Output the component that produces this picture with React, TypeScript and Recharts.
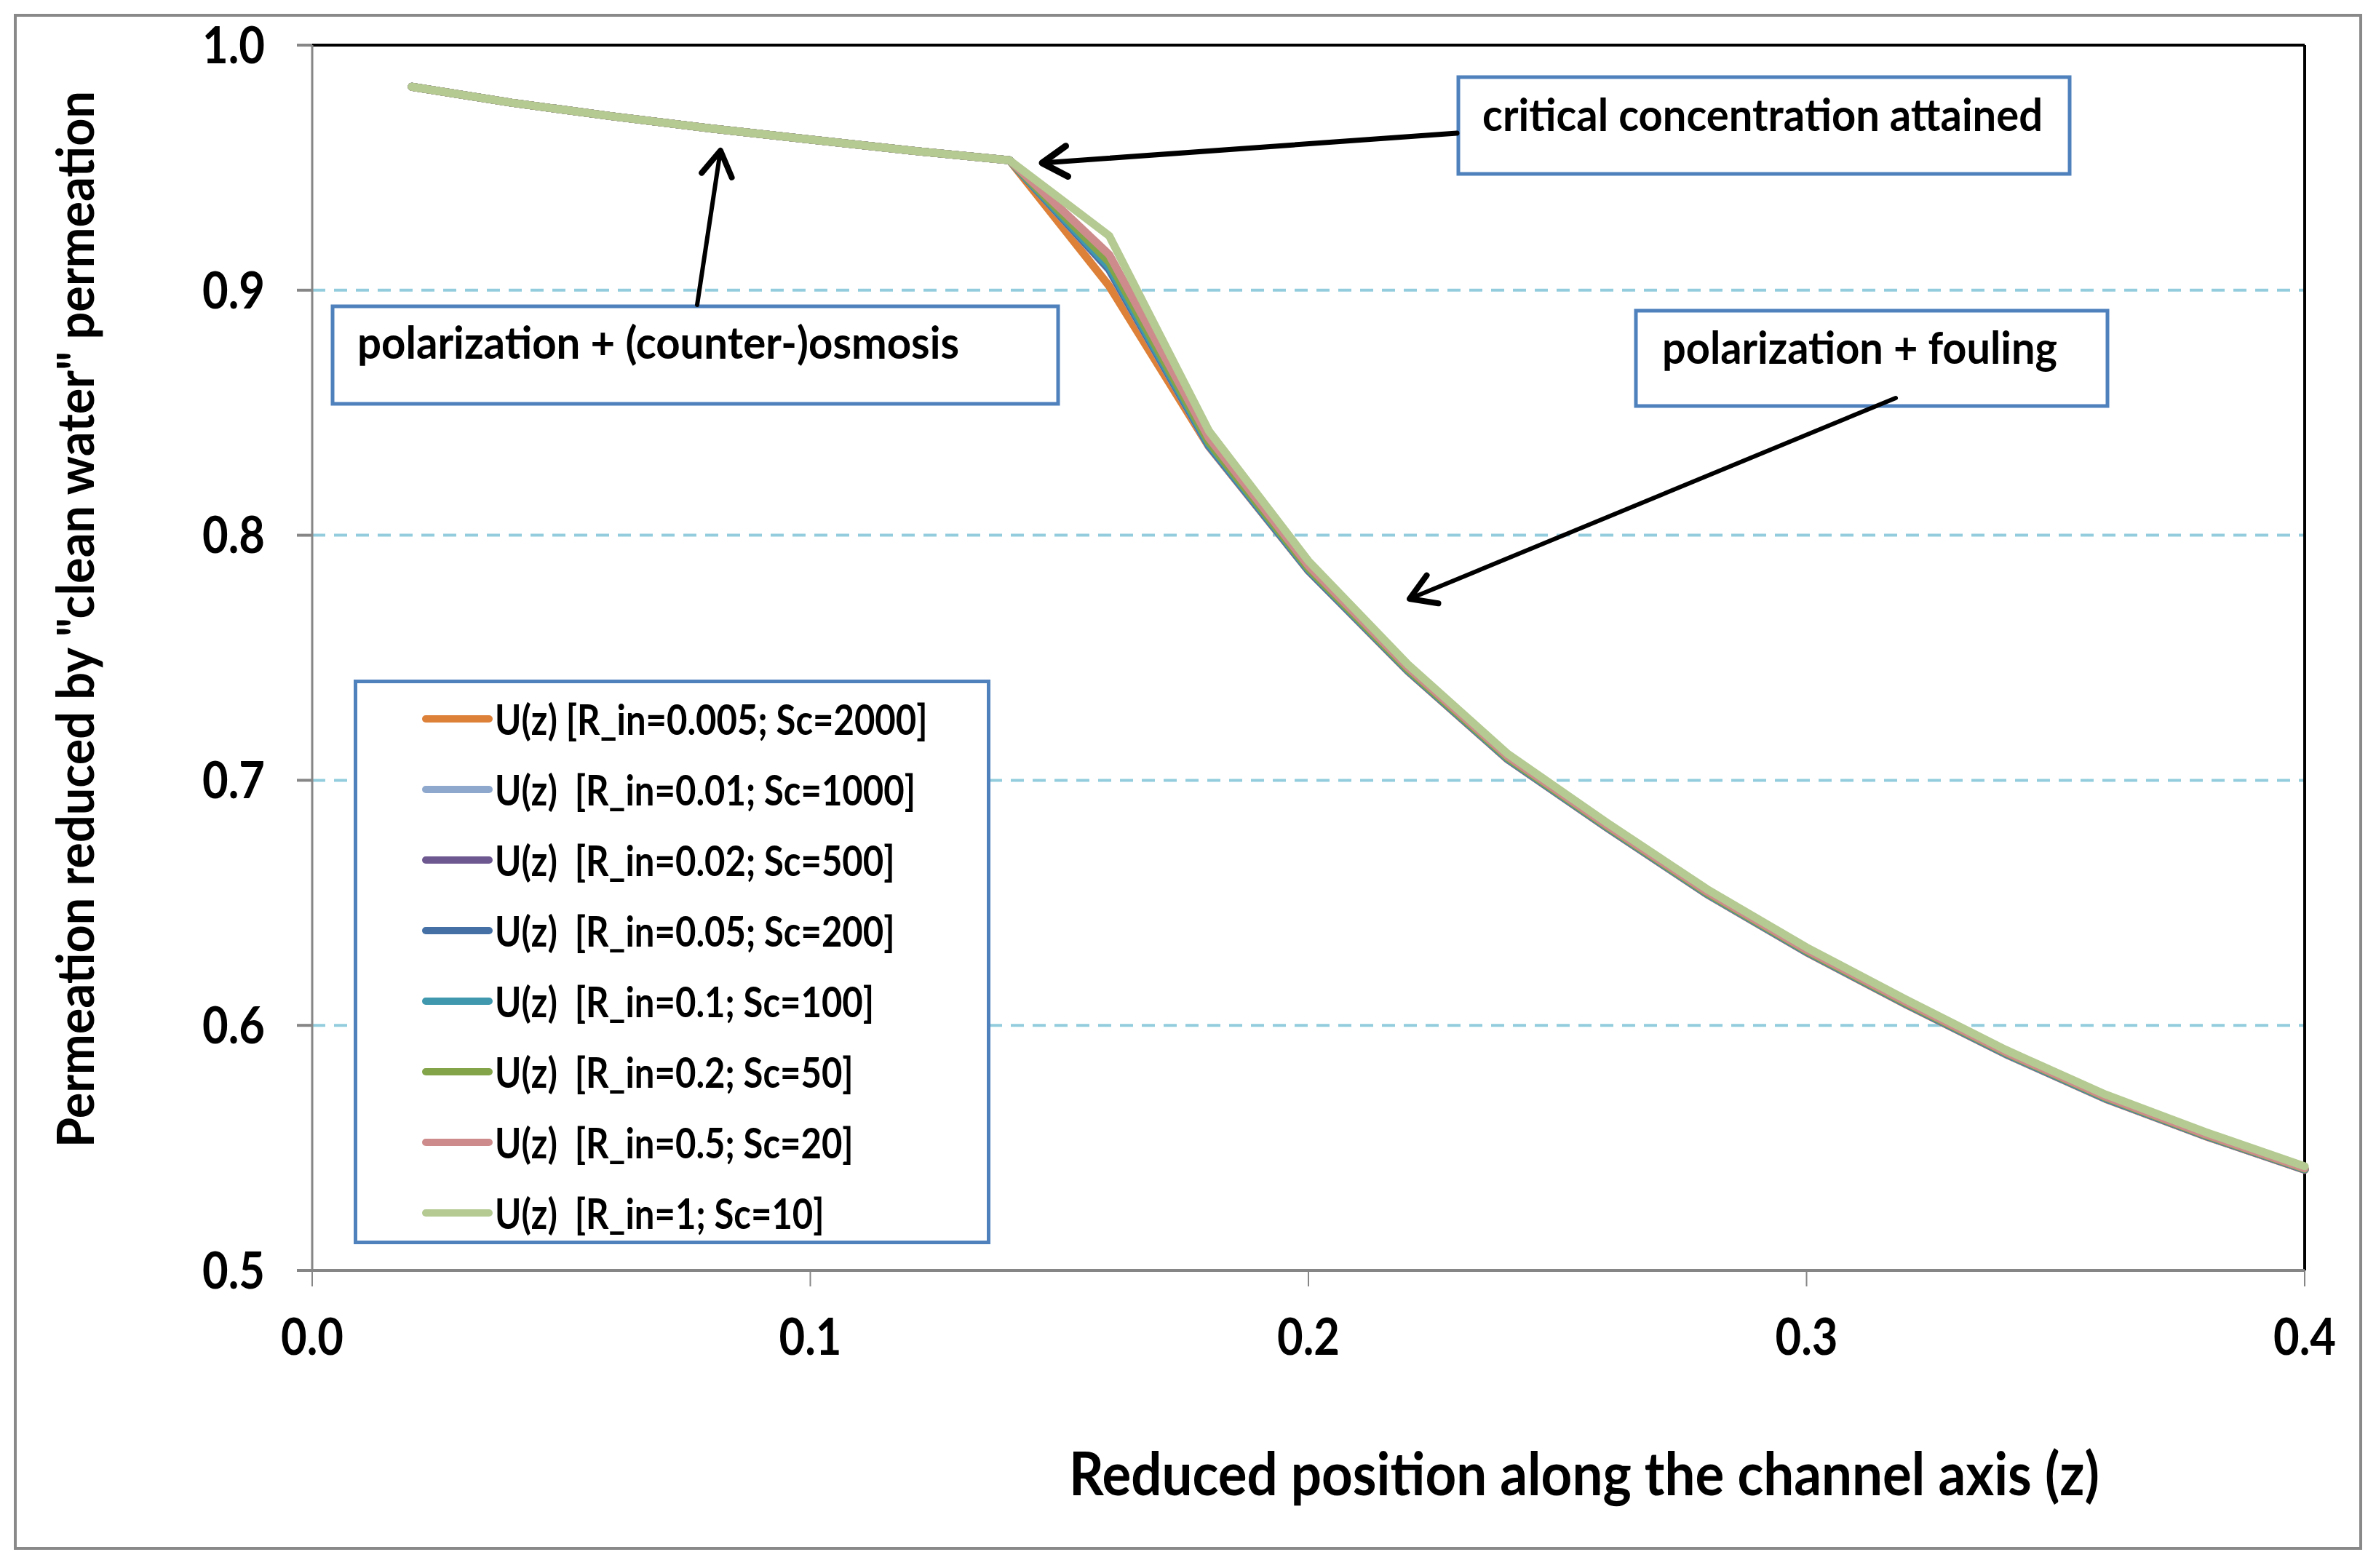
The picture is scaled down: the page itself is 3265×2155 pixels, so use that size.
import { LineChart, Line, CartesianGrid, XAxis, YAxis, Legend, ReferenceLine } from 'recharts';

const W = 3265;
const H = 2155;
const FONT = 'Lato, "Open Sans", sans-serif';

// reduced position z along the channel
const zValues = [0.02, 0.04, 0.06, 0.08, 0.1, 0.12, 0.14, 0.16, 0.18, 0.2, 0.22, 0.24, 0.26, 0.28, 0.3, 0.32, 0.34, 0.36, 0.38, 0.4];

// U(z) for each (R_in, Sc) pair
const uR0005 = [0.983, 0.9765, 0.971, 0.966, 0.9615, 0.957, 0.953, 0.9017, 0.8362, 0.7855, 0.7445, 0.7085, 0.6805, 0.6535, 0.6298, 0.6085, 0.5882, 0.57, 0.5548, 0.541];
const uR001 = [0.983, 0.9765, 0.971, 0.966, 0.9615, 0.957, 0.953, 0.9083, 0.8364, 0.7856, 0.7446, 0.7086, 0.6806, 0.6536, 0.6299, 0.6086, 0.5883, 0.5701, 0.5549, 0.5411];
const uR002 = [0.983, 0.9765, 0.971, 0.966, 0.9615, 0.957, 0.953, 0.9086, 0.8366, 0.7857, 0.7447, 0.7087, 0.6807, 0.6537, 0.63, 0.6087, 0.5884, 0.5702, 0.555, 0.5412];
const uR005 = [0.983, 0.9765, 0.971, 0.966, 0.9615, 0.957, 0.953, 0.9089, 0.8368, 0.7858, 0.7448, 0.7088, 0.6808, 0.6538, 0.6301, 0.6088, 0.5885, 0.5703, 0.5551, 0.5413];
const uR01 = [0.983, 0.9765, 0.971, 0.966, 0.9615, 0.957, 0.953, 0.9095, 0.8371, 0.786, 0.7449, 0.7089, 0.6809, 0.6539, 0.6302, 0.6089, 0.5886, 0.5704, 0.5552, 0.5414];
const uR02 = [0.983, 0.9765, 0.971, 0.966, 0.9615, 0.957, 0.953, 0.9115, 0.838, 0.7865, 0.7452, 0.7092, 0.6811, 0.6541, 0.6304, 0.6091, 0.5888, 0.5706, 0.5553, 0.5415];
const uR05 = [0.983, 0.9765, 0.971, 0.966, 0.9615, 0.957, 0.953, 0.9145, 0.8398, 0.7876, 0.746, 0.7098, 0.6816, 0.6546, 0.6308, 0.6095, 0.5891, 0.5709, 0.5556, 0.5417];
const uR1 = [0.983, 0.9765, 0.971, 0.966, 0.9615, 0.957, 0.953, 0.9222, 0.8426, 0.7895, 0.7472, 0.7108, 0.6826, 0.6556, 0.6318, 0.6105, 0.59, 0.5718, 0.5565, 0.5425];

const seriesNames = [
  'U(z) [R_in=0.005; Sc=2000]',
  'U(z)  [R_in=0.01; Sc=1000]',
  'U(z)  [R_in=0.02; Sc=500]',
  'U(z)  [R_in=0.05; Sc=200]',
  'U(z)  [R_in=0.1; Sc=100]',
  'U(z)  [R_in=0.2; Sc=50]',
  'U(z)  [R_in=0.5; Sc=20]',
  'U(z)  [R_in=1; Sc=10]',
];
const seriesColors = ['#DD8038', '#8EA8CD', '#6E5890', '#4470A5', '#3F98AE', '#84A44A', '#CD8C8B', '#B4CA92'];
const seriesValues = [uR0005, uR001, uR002, uR005, uR01, uR02, uR05, uR1];

const xTicks = [0, 0.1, 0.2, 0.3, 0.4];
const yTicks = [0.5, 0.6, 0.7, 0.8, 0.9, 1.0];

const rows = zValues.map((z, i) => {
  const row: Record<string, number> = { z };
  seriesValues.forEach((vals, k) => {
    row['s' + k] = vals[i];
  });
  return row;
});

// Calibri-ish look: Lato squeezed a bit
const XTick = (props: any) => (
  <text x={props.x} y={props.y} dy="0.71em" textAnchor="middle" fontFamily={FONT} fontWeight={700} fontSize={70}
    fill="#000" textLength={86} lengthAdjust="spacingAndGlyphs">
    {Number(props.payload.value).toFixed(1)}
  </text>
);
const YTick = (props: any) => (
  <text x={props.x} y={props.y} dy="0.355em" textAnchor="end" fontFamily={FONT} fontWeight={700} fontSize={70}
    fill="#000" textLength={86} lengthAdjust="spacingAndGlyphs">
    {Number(props.payload.value).toFixed(1)}
  </text>
);

const renderLegend = (props: any) => {
  const items = [...(props.payload || [])].sort(
    (a: any, b: any) => seriesNames.indexOf(a.value) - seriesNames.indexOf(b.value)
  );
  return (
    <div
      style={{
        boxSizing: 'border-box',
        width: 875,
        height: 776,
        border: '5px solid #4F81BD',
        background: '#fff',
        paddingLeft: 89,
        fontFamily: FONT,
        fontWeight: 700,
        fontSize: 57,
        color: '#000',
      }}
    >
      {items.map((it: any) => (
        <div key={it.value} style={{ height: 97, display: 'flex', alignItems: 'center', whiteSpace: 'pre' }}>
          <svg width={100} height={20} style={{ flexShrink: 0 }}>
            <line x1={5} y1={10} x2={92} y2={10} stroke={it.color} strokeWidth={10} strokeLinecap="round" />
          </svg>
          <span style={{ display: 'inline-block', transform: 'scaleX(0.86)', transformOrigin: 'left center' }}>
            {it.value}
          </span>
        </div>
      ))}
    </div>
  );
};

function Arrow({ x1, y1, x2, y2, w }: { x1: number; y1: number; x2: number; y2: number; w: number }) {
  const a = Math.atan2(y1 - y2, x1 - x2);
  const len = 40;
  const spread = 0.55;
  const p1 = [x2 + len * Math.cos(a + spread), y2 + len * Math.sin(a + spread)];
  const p2 = [x2 + len * Math.cos(a - spread), y2 + len * Math.sin(a - spread)];
  return (
    <g stroke="#000" strokeWidth={w} strokeLinecap="round" fill="none">
      <line x1={x1} y1={y1} x2={x2} y2={y2} />
      <polyline points={`${p1[0]},${p1[1]} ${x2},${y2} ${p2[0]},${p2[1]}`} strokeWidth={w + 2} strokeLinejoin="round" />
    </g>
  );
}

const annText = { fontFamily: FONT, fontWeight: 700, fontSize: 62, fill: '#000', lengthAdjust: 'spacingAndGlyphs' };

export default function App() {
  return (
    <div style={{ position: 'absolute', left: 0, top: 0, width: W, height: H, background: '#fff' }}>
      <LineChart width={W} height={H} data={rows} margin={{ top: 62, right: 98, left: 0, bottom: 0 }}>
        <CartesianGrid vertical={false} stroke="#93CDDD" strokeWidth={4} strokeDasharray="18 12" />
        <ReferenceLine y={1} stroke="#000" strokeWidth={4} />
        <ReferenceLine x={0.4} stroke="#000" strokeWidth={4} />
        <XAxis
          dataKey="z"
          type="number"
          domain={[0, 0.4]}
          ticks={xTicks}
          height={409}
          axisLine={{ stroke: '#868686', strokeWidth: 4 }}
          tickLine={{ stroke: '#868686', strokeWidth: 2 }}
          tickSize={22}
          tickMargin={44}
          tick={<XTick />}
        />
        <YAxis
          type="number"
          domain={[0.5, 1]}
          ticks={yTicks}
          width={429}
          axisLine={{ stroke: '#868686', strokeWidth: 3 }}
          tickLine={{ stroke: '#868686', strokeWidth: 4 }}
          tickSize={21}
          tickMargin={44}
          tick={<YTick />}
        />
        <Legend
          layout="vertical"
          align="center"
          verticalAlign="middle"
          content={renderLegend}
          wrapperStyle={{ left: 486, top: 934, width: 875, height: 776 }}
        />
        {seriesNames.map((name, k) => (
          <Line
            key={name}
            type="linear"
            dataKey={'s' + k}
            name={name}
            stroke={seriesColors[k]}
            strokeWidth={11}
            strokeLinecap="round"
            strokeLinejoin="round"
            dot={false}
            activeDot={false}
            isAnimationActive={false}
          />
        ))}
      </LineChart>
      <svg width={W} height={H} style={{ position: 'absolute', left: 0, top: 0, pointerEvents: 'none' }}>
        <rect x={21} y={21} width={3223} height={2107} fill="none" stroke="#898989" strokeWidth={4} />
        <text x={2177} y={2055} textAnchor="middle" fontFamily={FONT} fontWeight={700} fontSize={82} fill="#000"
          textLength={1416} lengthAdjust="spacingAndGlyphs">
          Reduced position along the channel axis (z)
        </text>
        <text
          x={129}
          y={851}
          transform="rotate(-90 129 851)"
          textAnchor="middle"
          fontFamily={FONT}
          fontWeight={700}
          fontSize={70}
          fill="#000"
          textLength={1452}
          lengthAdjust="spacingAndGlyphs"
        >
          Permeation reduced by "clean water" permeation
        </text>

        <rect x={2004} y={106} width={840} height={133} fill="#fff" stroke="#4F81BD" strokeWidth={5} />
        <text x={2037} y={180} textLength={770} {...annText}>critical concentration attained</text>

        <rect x={2248} y={427} width={648} height={131} fill="#fff" stroke="#4F81BD" strokeWidth={5} />
        <text x={2284} y={500} textLength={543} {...annText}>polarization + fouling</text>

        <rect x={457} y={421} width={997} height={134} fill="#fff" stroke="#4F81BD" strokeWidth={5} />
        <text x={491} y={493} textLength={827} {...annText}>polarization + (counter-)osmosis</text>

        <Arrow x1={2002} y1={183} x2={1432} y2={224} w={7} />
        <Arrow x1={958} y1={419} x2={990} y2={207} w={6} />
        <Arrow x1={2605} y1={547} x2={1937} y2={823} w={6} />
      </svg>
    </div>
  );
}
